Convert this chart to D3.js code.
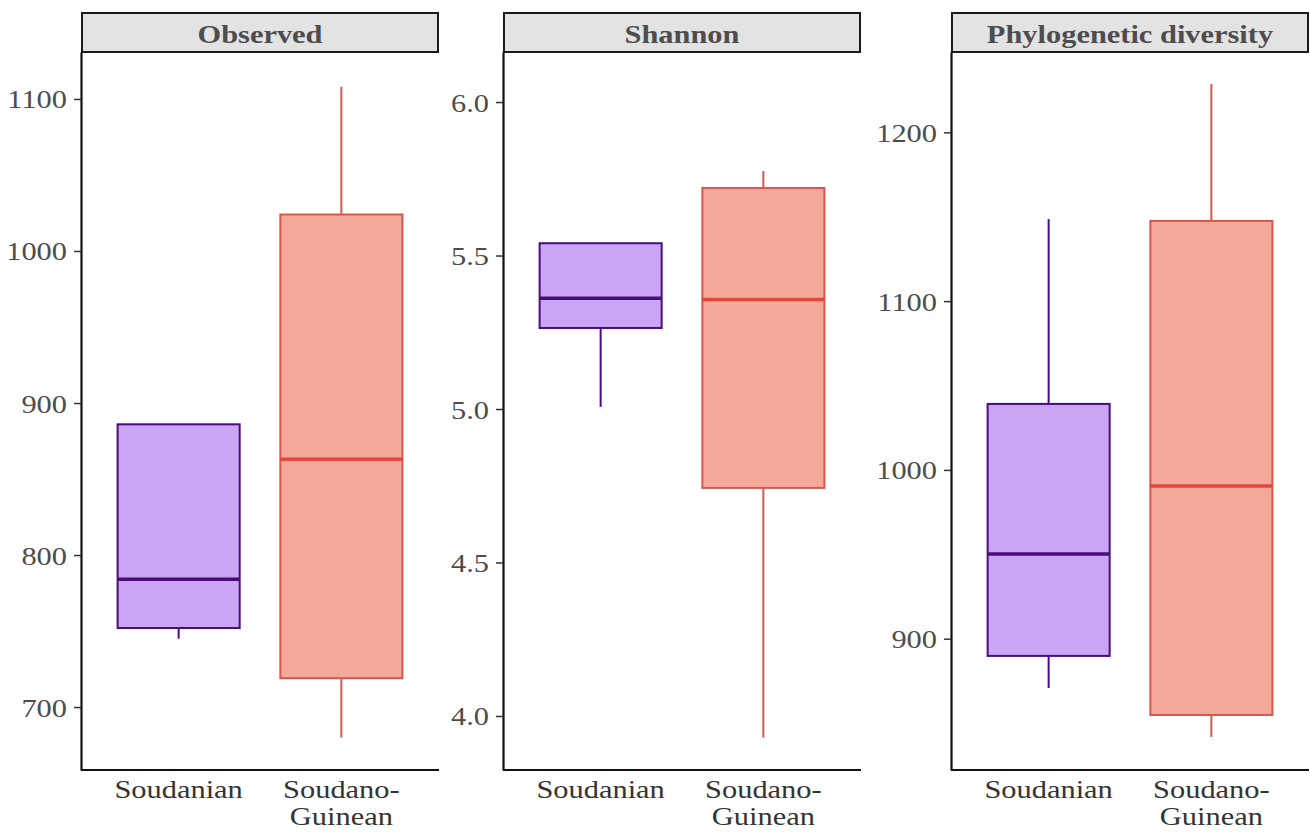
<!DOCTYPE html>
<html>
<head>
<meta charset="utf-8">
<script src="https://cdn.jsdelivr.net/npm/d3@7"></script>
<style>
  html, body { margin: 0; padding: 0; background: #ffffff; }
  svg { display: block; }
</style>
</head>
<body>
<svg id="chart" width="1310" height="833"></svg>
<script>
// ---------- DATA ----------
const categories = ["Soudanian", "Soudano-Guinean"];
const categoryLines = [["Soudanian"], ["Soudano-", "Guinean"]];
const metrics = ["Observed", "Shannon", "Phylogenetic diversity"];

// box stats: [lower whisker, Q1, median, Q3, upper whisker]
const observedSoudanian = [745, 752, 784, 886, 886];
const observedSoudanoGuinean = [680, 719, 863, 1024, 1108];
const shannonSoudanian = [5.007, 5.264, 5.361, 5.54, 5.54];
const shannonSoudanoGuinean = [3.93, 4.743, 5.357, 5.72, 5.775];
const pdSoudanian = [870.8, 889.8, 950.2, 1039.1, 1148.6];
const pdSoudanoGuinean = [841.8, 854.8, 990.5, 1147.5, 1228.6];

// axis ranges and ticks
const observedDomain = [658.6, 1130.9];
const shannonDomain = [3.824, 6.163];
const pdDomain = [822.2, 1247.6];
const observedTicks = [700, 800, 900, 1000, 1100];
const shannonTicks = [4.0, 4.5, 5.0, 5.5, 6.0];
const pdTicks = [900, 1000, 1100, 1200];

// ---------- LAYOUT / STYLE ----------
const panels = [
  { title: metrics[0], stats: [observedSoudanian, observedSoudanoGuinean], domain: observedDomain, ticks: observedTicks, fmt: d3.format("d"), left: 81 },
  { title: metrics[1], stats: [shannonSoudanian, shannonSoudanoGuinean], domain: shannonDomain, ticks: shannonTicks, fmt: d3.format(".1f"), left: 503 },
  { title: metrics[2], stats: [pdSoudanian, pdSoudanoGuinean], domain: pdDomain, ticks: pdTicks, fmt: d3.format("d"), left: 951 }
];
const panelW = 358;
const stripTop = 13, stripH = 39;
const plotTop = stripTop + stripH, plotBottom = 770;
const fills = ["#c9a5f4", "#f4a99b"];
const strokes = ["#4b0c7e", "#d9574d"];
const medianStrokes = ["#4a0a7a", "#e2463c"];
const sx = 1.17; // horizontal stretch of glyphs in the reference
const fontFam = "'Liberation Serif', 'Times New Roman', serif";

const svg = d3.select("#chart");

panels.forEach(p => {
  const g = svg.append("g").attr("transform", `translate(${p.left},0)`);
  const x = d3.scalePoint().domain(categories).range([0, panelW]).padding(0.6);
  const y = d3.scaleLinear().domain(p.domain).range([plotBottom, plotTop]);
  const boxW = x.step() * 0.75;

  // strip
  g.append("rect")
    .attr("x", 1).attr("y", stripTop)
    .attr("width", panelW - 2).attr("height", stripH)
    .attr("fill", "#e3e3e3").attr("stroke", "#1a1a1a").attr("stroke-width", 2);
  g.append("text")
    .attr("transform", `translate(${panelW / 2},${stripTop + 30}) scale(${sx},1)`)
    .attr("text-anchor", "middle")
    .attr("font-family", fontFam).attr("font-weight", "bold")
    .attr("font-size", 26).attr("fill", "#4d4d4d")
    .text(p.title);

  // boxes
  categories.forEach((c, i) => {
    const s = p.stats[i];
    const cx = x(c);
    const bg = g.append("g");
    // whiskers
    bg.append("line").attr("x1", cx).attr("x2", cx)
      .attr("y1", y(s[3])).attr("y2", y(s[4]))
      .attr("stroke", strokes[i]).attr("stroke-width", 2);
    bg.append("line").attr("x1", cx).attr("x2", cx)
      .attr("y1", y(s[1])).attr("y2", y(s[0]))
      .attr("stroke", strokes[i]).attr("stroke-width", 2);
    bg.append("rect")
      .attr("x", cx - boxW / 2).attr("width", boxW)
      .attr("y", y(s[3])).attr("height", y(s[1]) - y(s[3]))
      .attr("fill", fills[i]).attr("stroke", strokes[i]).attr("stroke-width", 2);
    bg.append("line")
      .attr("x1", cx - boxW / 2).attr("x2", cx + boxW / 2)
      .attr("y1", y(s[2])).attr("y2", y(s[2]))
      .attr("stroke", medianStrokes[i]).attr("stroke-width", 3.5);
  });

  // y axis
  const ya = g.append("g")
    .call(d3.axisLeft(y).tickValues(p.ticks).tickFormat(p.fmt).tickSize(7).tickSizeOuter(0).tickPadding(0));
  ya.select(".domain").attr("stroke", "#111").attr("stroke-width", 2.2);
  ya.selectAll(".tick line").attr("stroke", "#333").attr("stroke-width", 1.5);
  ya.selectAll(".tick text")
    .attr("x", null).attr("dy", null)
    .attr("transform", `translate(-14,9) scale(${sx},1)`)
    .attr("text-anchor", "end")
    .attr("font-family", fontFam).attr("font-size", 26).attr("fill", "#4d4d4d");

  // x axis line
  g.append("line").attr("x1", 0).attr("x2", panelW)
    .attr("y1", plotBottom).attr("y2", plotBottom)
    .attr("stroke", "#111").attr("stroke-width", 2.2);

  // x labels
  categories.forEach((c, i) => {
    categoryLines[i].forEach((ln, k) => {
      g.append("text")
        .attr("transform", `translate(${x(c)},${798 + k * 27}) scale(${sx},1)`)
        .attr("text-anchor", "middle")
        .attr("font-family", fontFam).attr("font-size", 26).attr("fill", "#333")
        .text(ln);
    });
  });
});
</script>
</body>
</html>
